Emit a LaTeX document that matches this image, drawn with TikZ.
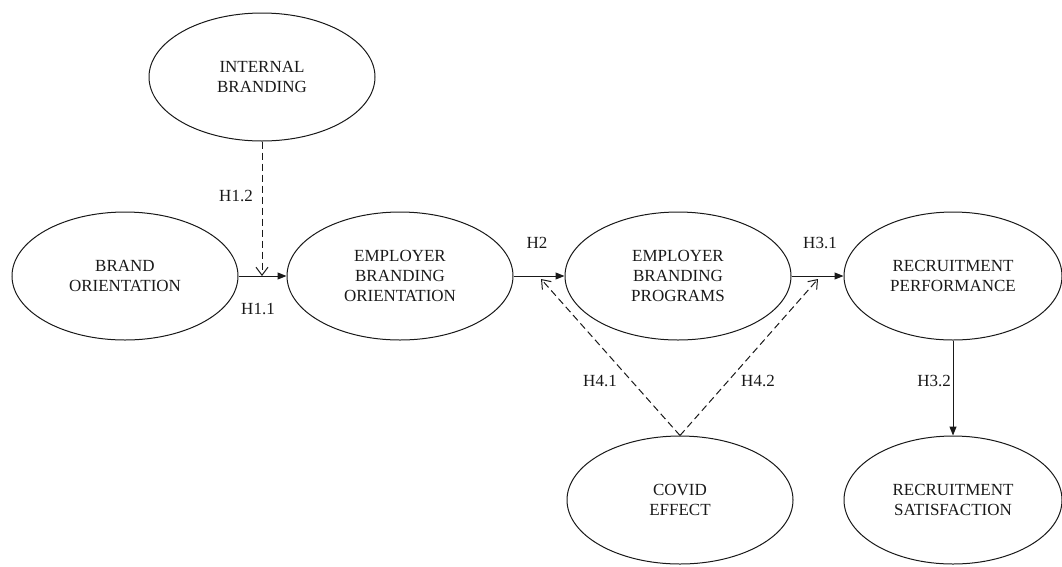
\documentclass[tikz,border=0pt]{standalone}
\usepackage{fontspec}
\setmainfont{Liberation Serif}
\usetikzlibrary{shapes.geometric,arrows.meta}
\begin{document}
\begin{tikzpicture}[x=1pt,y=-1pt,
  latent/.style={draw=black!90, ellipse, line width=1pt, minimum width=226pt, minimum height=128pt, inner sep=0pt, align=center, font=\fontsize{17}{20}\selectfont, text=black!90},
  lbl/.style={font=\fontsize{17}{20}\selectfont, text=black!90, inner sep=0pt},
  solidarrow/.style={draw=black!90, line width=1pt, -{Triangle[length=9pt,width=7pt]}},
  dasharrow/.style={draw=black!90, line width=1pt, dash pattern=on 7pt off 4pt, -{Straight Barb[length=8pt,width=12pt]}}]
\useasboundingbox (0,0) rectangle (1062,566);
\node[latent] (ib) at (262,77) {INTERNAL\\BRANDING};
\node[latent] (bo) at (125,276) {BRAND\\ORIENTATION};
\node[latent] (ebo) at (400,276) {EMPLOYER\\BRANDING\\ORIENTATION};
\node[latent] (ebp) at (678,276) {EMPLOYER\\BRANDING\\PROGRAMS};
\node[latent, minimum width=218pt] (rp) at (953,276) {RECRUITMENT\\PERFORMANCE};
\node[latent, minimum width=226pt] (covid) at (680,500) {COVID\\EFFECT};
\node[latent, minimum width=218pt] (rs) at (953,500) {RECRUITMENT\\SATISFACTION};
\coordinate (j1) at (262,276);
\coordinate (t41) at (541,279);
\coordinate (t42) at (818,279);
\draw[solidarrow] (bo.east) -- (ebo.west);
\draw[dasharrow] (ib.south) -- (j1);
\draw[solidarrow] (ebo.east) -- (ebp.west);
\draw[solidarrow] (ebp.east) -- (rp.west);
\draw[solidarrow] (rp.south) -- (rs.north);
\draw[dasharrow] (covid.north) -- (t41);
\draw[dasharrow] (covid.north) -- (t42);
\node[lbl] (h12) at (236,196) {H1.2};
\node[lbl] (h11) at (258,309) {H1.1};
\node[lbl] (h2) at (537,243) {H2};
\node[lbl] (h31) at (820,243) {H3.1};
\node[lbl] (h41) at (600,381) {H4.1};
\node[lbl] (h42) at (758,381) {H4.2};
\node[lbl] (h32) at (934,381) {H3.2};
\end{tikzpicture}
\end{document}
